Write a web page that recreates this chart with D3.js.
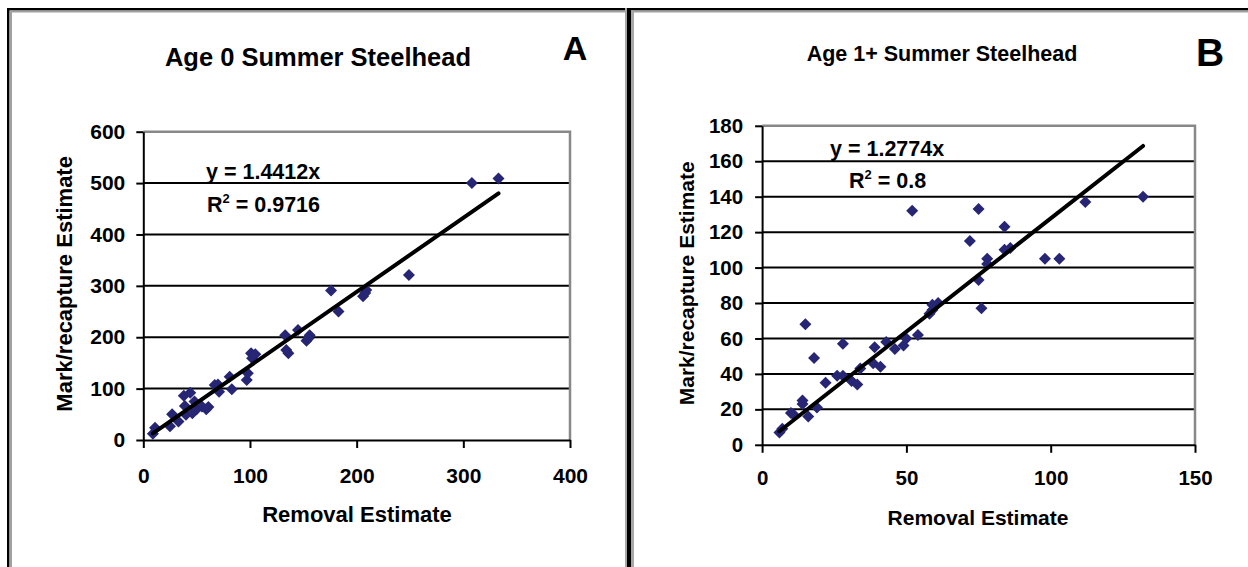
<!DOCTYPE html>
<html>
<head>
<meta charset="utf-8">
<script src="https://cdn.jsdelivr.net/npm/d3@7/dist/d3.min.js"></script>
<style>
  body { margin: 0; background: #fff; }
  svg { display: block; font-family: "Liberation Sans", Arial, sans-serif; font-weight: bold; }
</style>
</head>
<body>
<div class="figure"></div>
<script>
// Panel A - age 0
var removalA = [9, 11, 25, 27, 33, 38, 44, 40, 39, 46, 48, 50, 55, 61, 59, 67, 70, 71, 81, 83,
                97, 98, 101, 102, 105, 133, 136, 134, 145, 153, 156, 155, 176, 183, 206, 209, 208, 249, 308, 333];
var markA = [12, 24, 27, 50, 36, 86, 92, 49, 66, 52, 75, 60, 65, 64, 60, 107, 108, 94, 123, 99,
             117, 130, 169, 159, 167, 204, 169, 175, 214, 193, 204, 198, 291, 250, 280, 292, 286, 321, 500, 509];
var xTicksA = [0, 100, 200, 300, 400];
var yTicksA = [0, 100, 200, 300, 400, 500, 600];

// Panel B - age 1+
var removalB = [6, 7, 10, 11, 14, 14, 16, 19, 15, 18, 22, 26, 28, 28, 31, 33, 34, 39, 38.5, 41, 43, 46,
                49, 50, 54, 58, 59, 61, 59, 76, 75, 78, 78, 52, 75, 72, 84, 84, 86, 98, 103, 112, 132];
var markB = [7, 9, 18, 17, 25, 23, 16, 21, 68, 49, 35, 39, 57, 39, 36, 34, 43, 55, 46, 44, 58, 54,
             56, 60, 62, 74, 79, 80, 76, 77, 93, 105, 102, 132, 133, 115, 123, 110, 111, 105, 105, 137, 140];
var xTicksB = [0, 50, 100, 150];
var yTicksB = [0, 20, 40, 60, 80, 100, 120, 140, 160, 180];

var width = 1248, height = 567;

var svg = d3.select('.figure').append('svg')
  .attr('width', width)
  .attr('height', height);

// outer frame (black line with grey shadow)
svg.append('rect').attr('x', 7).attr('y', 8).attr('width', width - 7).attr('height', 2.5).attr('fill', '#000');
svg.append('rect').attr('x', 9.5).attr('y', 10.5).attr('width', width - 9.5).attr('height', 2).attr('fill', '#a0a0a0');
svg.append('rect').attr('x', 7).attr('y', 8).attr('width', 2.5).attr('height', height).attr('fill', '#000');
svg.append('rect').attr('x', 9.5).attr('y', 10.5).attr('width', 2.5).attr('height', height).attr('fill', '#a0a0a0');
svg.append('rect').attr('x', 625).attr('y', 8).attr('width', 2).attr('height', height).attr('fill', '#a8a8a8');
svg.append('rect').attr('x', 627).attr('y', 8).attr('width', 4).attr('height', height).attr('fill', '#000');
svg.append('rect').attr('x', 631).attr('y', 10.5).attr('width', 3).attr('height', height).attr('fill', '#a8a8a8');

var panels = [
  {
    xs: removalA, ys: markA, xTicks: xTicksA, yTicks: yTicksA,
    left: 143.3, right: 570, top: 131.7, bottom: 440,
    slope: 1.4412, eq: 'y = 1.4412x', r2: '0.9716',
    eqX: 206, eqY: 179, r2X: 207, r2Y: 212,
    title: 'Age 0 Summer Steelhead', titleX: 318, titleY: 66, titleSize: 25.5,
    letter: 'A', letterX: 575, letterY: 60, letterSize: 34,
    tickSize: 21, yPad: 11, xPad: 20,
    yTitleX: 72, xTitleX: 357, xTitleY: 522, labelSize: 22
  },
  {
    xs: removalB, ys: markB, xTicks: xTicksB, yTicks: yTicksB,
    left: 762.1, right: 1195, top: 125.8, bottom: 444.8,
    slope: 1.2774, eq: 'y = 1.2774x', r2: '0.8',
    eqX: 830, eqY: 156, r2X: 849, r2Y: 188,
    title: 'Age 1+ Summer Steelhead', titleX: 942, titleY: 61, titleSize: 21.5,
    letter: 'B', letterX: 1210, letterY: 66, letterSize: 39,
    tickSize: 20.5, yPad: 12, xPad: 18,
    yTitleX: 694, xTitleX: 978, xTitleY: 525, labelSize: 21
  }
];

panels.forEach(function(p) {
  var xScale = d3.scaleLinear()
    .domain(d3.extent(p.xTicks))
    .range([p.left, p.right]);
  var yScale = d3.scaleLinear()
    .domain(d3.extent(p.yTicks))
    .range([p.bottom, p.top]);

  var g = svg.append('g');

  // gridlines
  g.append('g').selectAll('line')
    .data(p.yTicks.slice(1, -1))
    .enter().append('line')
    .attr('x1', p.left).attr('x2', p.right)
    .attr('y1', yScale).attr('y2', yScale)
    .attr('stroke', '#000')
    .attr('stroke-width', 2);

  // grey plot border top / right
  g.append('path')
    .attr('d', 'M' + p.left + ',' + p.top + 'H' + p.right + 'V' + p.bottom)
    .attr('fill', 'none')
    .attr('stroke', '#888')
    .attr('stroke-width', 2.5);

  var yAxis = g.append('g')
    .attr('transform', 'translate(' + p.left + ',0)')
    .call(d3.axisLeft(yScale).tickValues(p.yTicks).tickSizeInner(7).tickSizeOuter(0).tickPadding(p.yPad));
  var xAxis = g.append('g')
    .attr('transform', 'translate(0,' + p.bottom + ')')
    .call(d3.axisBottom(xScale).tickValues(p.xTicks).tickSizeInner(8).tickSizeOuter(0).tickPadding(p.xPad));

  [yAxis, xAxis].forEach(function(ax) {
    ax.attr('font-family', null).attr('font-size', p.tickSize);
    ax.selectAll('path, line').attr('stroke', '#000').attr('stroke-width', 2);
    ax.selectAll('text').attr('fill', '#000');
  });

  // points
  var pts = d3.zip(p.xs, p.ys);
  g.append('g').selectAll('path')
    .data(pts)
    .enter().append('path')
    .attr('d', 'M0,-6L6,0L0,6L-6,0Z')
    .attr('transform', function(d) { return 'translate(' + xScale(d[0]) + ',' + yScale(d[1]) + ')'; })
    .attr('fill', '#262675');

  // trendline through origin
  var xr = d3.extent(p.xs);
  g.append('line')
    .attr('x1', xScale(xr[0])).attr('y1', yScale(xr[0] * p.slope))
    .attr('x2', xScale(xr[1])).attr('y2', yScale(xr[1] * p.slope))
    .attr('stroke', '#000')
    .attr('stroke-width', 4)
    .attr('stroke-linecap', 'round');

  // equation
  g.append('text')
    .attr('x', p.eqX).attr('y', p.eqY)
    .attr('font-size', 21.5)
    .text(p.eq);
  var r2 = g.append('text')
    .attr('x', p.r2X).attr('y', p.r2Y)
    .attr('font-size', 21.5);
  r2.append('tspan').text('R');
  r2.append('tspan').attr('font-size', 13).attr('dy', -9).text('2');
  r2.append('tspan').attr('dy', 9).text(' = ' + p.r2);

  // titles
  g.append('text')
    .attr('x', p.titleX).attr('y', p.titleY)
    .attr('text-anchor', 'middle')
    .attr('font-size', p.titleSize)
    .text(p.title);
  g.append('text')
    .attr('x', p.letterX).attr('y', p.letterY)
    .attr('text-anchor', 'middle')
    .attr('font-size', p.letterSize)
    .text(p.letter);
  g.append('text')
    .attr('x', p.xTitleX).attr('y', p.xTitleY)
    .attr('text-anchor', 'middle')
    .attr('font-size', p.labelSize)
    .text('Removal Estimate');
  g.append('text')
    .attr('transform', 'translate(' + p.yTitleX + ',' + ((p.top + p.bottom) / 2 - 2) + ') rotate(-90)')
    .attr('text-anchor', 'middle')
    .attr('font-size', p.labelSize)
    .text('Mark/recapture Estimate');
});
</script>
</body>
</html>
